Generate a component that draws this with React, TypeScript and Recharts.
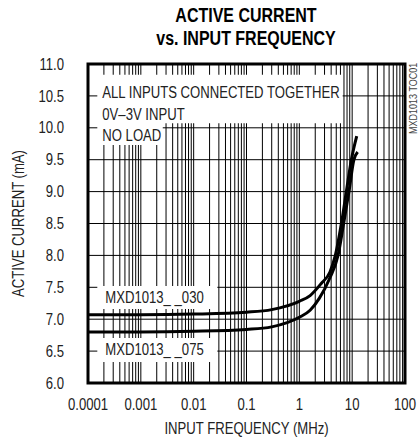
import { LineChart, Line, XAxis, YAxis, ReferenceLine, ReferenceArea } from "recharts";

const FONT = '"Liberation Sans", Arial, sans-serif';
const SX = 0.82; // horizontal squeeze to mimic the condensed face

// axis ticks
const X_TICKS = [0.0001, 0.001, 0.01, 0.1, 1, 10, 100];
const X_LABELS = ["0.0001", "0.001", "0.01", "0.1", "1", "10", "100"];
const Y_TICKS = [6, 6.5, 7, 7.5, 8, 8.5, 9, 9.5, 10, 10.5, 11];
const Y_LABELS = ["6.0", "6.5", "7.0", "7.5", "8.0", "8.5", "9.0", "9.5", "10.0", "10.5", "11.0"];

// MXD1013_ _030 (upper curve)
const FREQ_030 = [0.0001, 0.001, 0.01, 0.1, 0.3, 1, 1.6, 2.6, 3.8, 4.8, 6.25, 7.76, 9.66, 12.2];
const CURR_030 = [7.07, 7.07, 7.08, 7.11, 7.15, 7.28, 7.37, 7.56, 7.74, 8.0, 8.5, 9.0, 9.5, 9.87];

// MXD1013_ _075 (lower curve)
const FREQ_075 = [0.0001, 0.001, 0.01, 0.1, 0.3, 1, 1.6, 2.4, 3.8, 5.4, 6.9, 8.7, 10.8, 12.7];
const CURR_075 = [6.8, 6.8, 6.81, 6.84, 6.88, 7.03, 7.14, 7.33, 7.65, 8.0, 8.5, 9.0, 9.5, 9.62];

const NOTE_LINES = ["ALL INPUTS CONNECTED TOGETHER", "0V\u20133V INPUT"];

const data030 = FREQ_030.map((f, i) => ({ f, i: CURR_030[i] }));
const data075 = FREQ_075.map((f, i) => ({ f, i: CURR_075[i] }));

// log grid: 1..9 in every decade, edges drawn by the frame
const gridX: number[] = [];
for (let d = -4; d <= 1; d++) {
  for (let m = 1; m <= 9; m++) {
    if (d === -4 && m === 1) continue;
    gridX.push(m * Math.pow(10, d));
  }
}
const gridY = Y_TICKS.slice(1, -1);

function XTick({ x, y, payload }: any) {
  const i = X_TICKS.indexOf(payload.value);
  return (
    <g transform={`translate(${x},${y}) scale(${SX},1)`}>
      <text x={0} y={0} dy="0.71em" textAnchor="middle" fontSize={16} fill="#222">
        {X_LABELS[i] ?? String(payload.value)}
      </text>
    </g>
  );
}

function YTick({ x, y, payload }: any) {
  const i = Y_TICKS.indexOf(payload.value);
  return (
    <g transform={`translate(${x},${y}) scale(${SX},1)`}>
      <text x={0} y={0} dy="0.355em" textAnchor="end" fontSize={16} fill="#222">
        {Y_LABELS[i] ?? String(payload.value)}
      </text>
    </g>
  );
}

function XTitle({ viewBox }: any) {
  if (!viewBox) return null;
  const cx = viewBox.x + viewBox.width / 2;
  const by = viewBox.y + viewBox.height - 9;
  return (
    <g transform={`translate(${cx},${by}) scale(${SX},1)`}>
      <text x={0} y={0} textAnchor="middle" fontSize={16} fill="#222">
        INPUT FREQUENCY (MHz)
      </text>
    </g>
  );
}

function YTitle({ viewBox }: any) {
  if (!viewBox) return null;
  const cy = viewBox.y + viewBox.height / 2;
  return (
    <g transform={`translate(18,${cy}) rotate(-90) scale(${SX},1)`}>
      <text x={0} y={0} dy="0.355em" textAnchor="middle" fontSize={16} fill="#222">
        ACTIVE CURRENT (mA)
      </text>
    </g>
  );
}

function BoxText({ viewBox, lines, padX, first, gap }: any) {
  if (!viewBox) return null;
  const { x, y } = viewBox;
  return (
    <g transform={`translate(${x + padX},${y + first}) scale(${SX},1)`}>
      <text fill="#222" fontSize={16}>
        {lines.map((l: string, k: number) => (
          <tspan key={k} x={0} y={k * gap}>
            {l}
          </tspan>
        ))}
      </text>
    </g>
  );
}

export default function App() {
  return (
    <div style={{ position: "absolute", left: 0, top: 0, width: 419, height: 443, fontFamily: FONT, background: "#fff" }}>
      <div
        style={{
          position: "absolute",
          left: 96,
          top: 4,
          width: 300,
          textAlign: "center",
          fontWeight: "bold",
          fontSize: 19.5,
          lineHeight: "23.3px",
          color: "#000",
          transform: `scaleX(${SX})`,
          transformOrigin: "center top",
        }}
      >
        ACTIVE CURRENT
        <br />
        vs. INPUT FREQUENCY
      </div>
      <div
        style={{
          position: "absolute",
          left: 408,
          top: 134,
          fontSize: 11,
          lineHeight: "11px",
          color: "#444",
          whiteSpace: "nowrap",
          transform: `rotate(-90deg) scaleX(${SX})`,
          transformOrigin: "0 0",
        }}
      >
        MXD1013 TOC01
      </div>
      <LineChart
        width={419}
        height={443}
        margin={{ top: 64, right: 14, bottom: 0, left: 10 }}
      >
        <XAxis
          dataKey="f"
          type="number"
          scale="log"
          domain={[0.0001, 100]}
          allowDataOverflow
          ticks={X_TICKS}
          interval={0}
          axisLine={false}
          tickLine={false}
          tickMargin={10}
          height={60}
          tick={<XTick />}
          label={<XTitle />}
        />
        <YAxis
          type="number"
          domain={[6, 11]}
          ticks={Y_TICKS}
          interval={0}
          axisLine={false}
          tickLine={false}
          tickMargin={18}
          width={78}
          tick={<YTick />}
          label={<YTitle />}
        />
        {gridX.map((v) => (
          <ReferenceLine key={"gx" + v} x={v} stroke="#000" strokeWidth={1} zIndex={50} />
        ))}
        {gridY.map((v) => (
          <ReferenceLine key={"gy" + v} y={v} stroke="#000" strokeWidth={1} zIndex={50} />
        ))}
        <ReferenceArea
          x1={0.00015}
          x2={6.6}
          y1={10.07}
          y2={10.83}
          fill="#fff"
          fillOpacity={1}
          stroke="none"
          zIndex={150}
          label={<BoxText lines={NOTE_LINES} padX={5} first={23.3} gap={21.7} />}
        />
        <ReferenceArea
          x1={0.00015}
          x2={0.0026}
          y1={9.73}
          y2={10.08}
          fill="#fff"
          fillOpacity={1}
          stroke="none"
          zIndex={150}
          label={<BoxText lines={["NO LOAD"]} padX={5} first={18.7} gap={0} />}
        />
        <ReferenceArea
          x1={0.00015}
          x2={0.028}
          y1={7.16}
          y2={7.52}
          fill="#fff"
          fillOpacity={1}
          stroke="none"
          zIndex={150}
          label={<BoxText lines={["MXD1013_ _030"]} padX={8} first={17.3} gap={0} />}
        />
        <ReferenceArea
          x1={0.00015}
          x2={0.028}
          y1={6.33}
          y2={6.705}
          fill="#fff"
          fillOpacity={1}
          stroke="none"
          zIndex={150}
          label={<BoxText lines={["MXD1013_ _075"]} padX={8} first={17} gap={0} />}
        />
        <Line data={data030} dataKey="i" type="monotone" stroke="#000" strokeWidth={3} dot={false} isAnimationActive={false} />
        <Line data={data075} dataKey="i" type="monotone" stroke="#000" strokeWidth={3} dot={false} isAnimationActive={false} />
        <ReferenceArea x1={0.0001} x2={100} y1={6} y2={11} fill="none" stroke="#000" strokeWidth={3} zIndex={500} />
      </LineChart>
    </div>
  );
}
